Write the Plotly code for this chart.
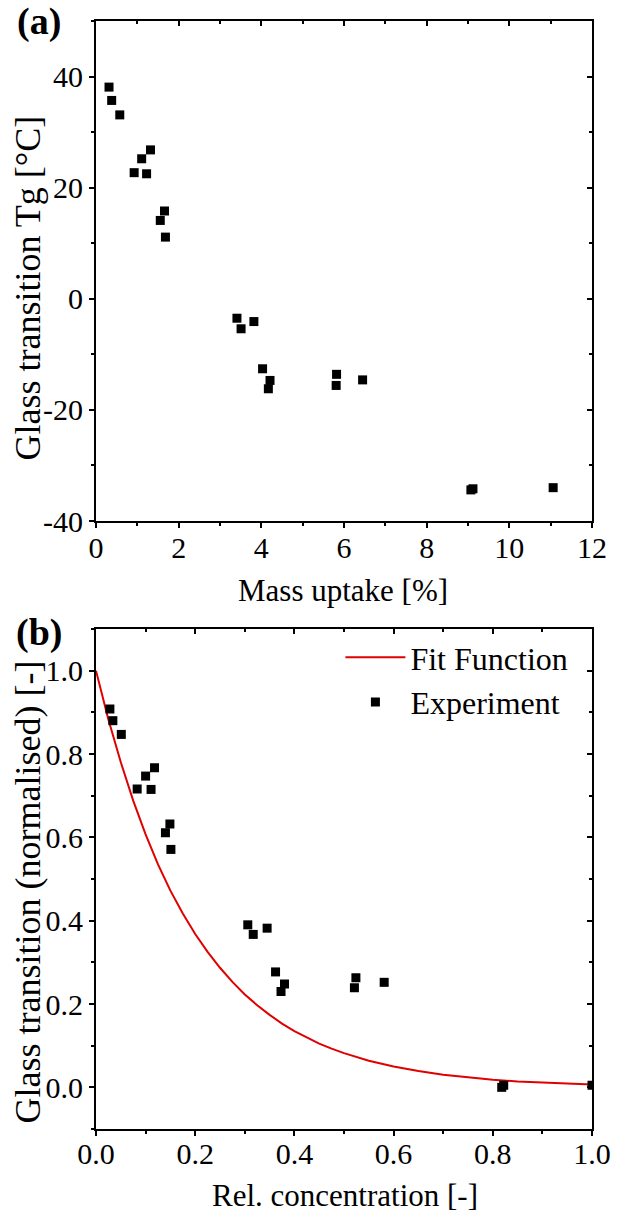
import plotly.graph_objects as go

# ---------- data ----------
mass_uptake = [0.315, 0.379, 0.575, 1.318, 1.105, 0.923, 1.224, 1.657, 1.555, 1.680,
               3.41, 3.51, 3.82, 4.03, 4.21, 4.17, 5.82, 5.81, 6.45, 9.07, 9.12, 11.06]
tg_celsius = [38.1, 35.7, 33.1, 26.8, 25.2, 22.7, 22.5, 15.8, 14.1, 11.1,
              -3.5, -5.4, -4.1, -12.6, -14.7, -16.2, -13.6, -15.6, -14.6, -34.4, -34.2, -34.0]

rel_conc = [0.028, 0.034, 0.051, 0.118, 0.100, 0.083, 0.111, 0.149, 0.140, 0.151,
            0.306, 0.317, 0.345, 0.362, 0.380, 0.373, 0.524, 0.521, 0.581, 0.818, 0.822, 1.0]
tg_norm = [0.908, 0.880, 0.847, 0.767, 0.747, 0.716, 0.715, 0.632, 0.611, 0.571,
           0.390, 0.367, 0.382, 0.277, 0.248, 0.230, 0.263, 0.239, 0.252, 0.000, 0.005, 0.005]

fit_x = [0.0, 0.025, 0.05, 0.075, 0.10, 0.125, 0.15, 0.175, 0.20, 0.225, 0.25,
         0.275, 0.30, 0.325, 0.35, 0.375, 0.40, 0.425, 0.45, 0.475, 0.50,
         0.55, 0.60, 0.65, 0.70, 0.75, 0.80, 0.85, 0.90, 0.95, 1.0]
fit_y = [1.0, 0.883, 0.780, 0.688, 0.607, 0.535, 0.472, 0.417, 0.368, 0.325, 0.287,
         0.253, 0.223, 0.197, 0.174, 0.153, 0.135, 0.119, 0.105, 0.093, 0.082,
         0.064, 0.050, 0.039, 0.030, 0.024, 0.018, 0.014, 0.011, 0.009, 0.007]

top_x_ticks = [0, 2, 4, 6, 8, 10, 12]
top_y_ticks = [-40, -20, 0, 20, 40]
top_y_labels = ["-40", "-20", "0", "20", "40"]
bot_ticks = [0.0, 0.2, 0.4, 0.6, 0.8, 1.0]
bot_labels = ["0.0", "0.2", "0.4", "0.6", "0.8", "1.0"]

# ---------- layout geometry ----------
W, H = 623, 1223
L, R, T, B = 96, 20, 21, 94
PW, PH = W - L - R, H - T - B


def px(xp):
    return (xp - L) / PW


def py(yp):
    return 1 - (yp - T) / PH


FONT = "Liberation Serif, Times New Roman, serif"
TICKF = dict(family=FONT, size=30, color="black")
RED = "#e00000"

fig = go.Figure()

fig.add_trace(go.Scatter(x=mass_uptake, y=tg_celsius, mode="markers",
                         marker=dict(symbol="square", size=9, color="black"),
                         xaxis="x", yaxis="y", showlegend=False))
fig.add_trace(go.Scatter(x=fit_x, y=fit_y, mode="lines", name="Fit Function",
                         line=dict(color=RED, width=2),
                         xaxis="x2", yaxis="y2"))
fig.add_trace(go.Scatter(x=rel_conc, y=tg_norm, mode="markers", name="Experiment",
                         marker=dict(symbol="square", size=9, color="black"),
                         xaxis="x2", yaxis="y2"))
# dummy traces for mirrored (inside-tick) axes
fig.add_trace(go.Scatter(x=[None], y=[None], xaxis="x3", yaxis="y3",
                         showlegend=False, hoverinfo="skip"))
fig.add_trace(go.Scatter(x=[None], y=[None], xaxis="x4", yaxis="y4",
                         showlegend=False, hoverinfo="skip"))

top_dom = [py(521), 1.0]
bot_dom = [0.0, py(629)]

base = dict(showline=True, linewidth=2, linecolor="black", showgrid=False,
            zeroline=False, ticks="outside", ticklen=5, tickwidth=2,
            tickcolor="black", tickfont=TICKF)
minor_out = dict(ticks="outside", ticklen=3, tickwidth=2, tickcolor="black")
minor_in = dict(ticks="inside", ticklen=3, tickwidth=2, tickcolor="black")
mirror = dict(showline=True, linewidth=2, linecolor="black", showgrid=False,
              zeroline=False, ticks="inside", ticklen=5, tickwidth=2,
              tickcolor="black", showticklabels=False)

fig.update_layout(
    width=W, height=H,
    margin=dict(l=L, r=R, t=T, b=B),
    plot_bgcolor="white", paper_bgcolor="white",
    font=dict(family=FONT, color="black"),
    xaxis=dict(base, domain=[0, 1], anchor="y", range=[0, 12],
               tickvals=top_x_ticks, minor=dict(minor_out, dtick=1),
               ticklabelstandoff=-6),
    yaxis=dict(base, domain=top_dom, anchor="x", range=[-40, 50],
               tickvals=top_y_ticks, ticktext=top_y_labels,
               minor=dict(minor_out, dtick=10)),
    xaxis3=dict(mirror, overlaying="x", side="top", anchor="y3", range=[0, 12],
                dtick=2, minor=dict(minor_in, dtick=1)),
    yaxis3=dict(mirror, overlaying="y", side="right", anchor="x3", range=[-40, 50],
                dtick=20, tick0=0, minor=dict(minor_in, dtick=10)),
    xaxis2=dict(base, domain=[0, 1], anchor="y2", range=[0, 1],
                tickvals=bot_ticks, ticktext=bot_labels, minor=dict(minor_out, dtick=0.1),
                ticklabelstandoff=-8),
    yaxis2=dict(base, domain=bot_dom, anchor="x2", range=[-0.1, 1.1],
                tickvals=bot_ticks, ticktext=bot_labels, minor=dict(minor_out, dtick=0.1)),
    xaxis4=dict(mirror, overlaying="x2", side="top", anchor="y4", range=[0, 1],
                dtick=0.2, minor=dict(minor_in, dtick=0.1)),
    yaxis4=dict(mirror, overlaying="y2", side="right", anchor="x4", range=[-0.1, 1.1],
                dtick=0.2, tick0=0, minor=dict(minor_in, dtick=0.1)),
    legend=dict(x=px(584), y=py(630), xanchor="right", yanchor="top",
                bgcolor="rgba(0,0,0,0)", font=dict(family=FONT, size=32, color="black"),
                itemwidth=60, tracegroupgap=0),
    showlegend=True,
)

TITLEF = dict(family=FONT, size=31, color="black")
YTITLEF = dict(family=FONT, size=36, color="black")
PANELF = dict(family=FONT, size=38, color="black")
ann = [
    dict(text="<b>(a)</b>", x=px(38), y=py(21), font=PANELF,
         xanchor="center", yanchor="middle"),
    dict(text="<b>(b)</b>", x=px(38), y=py(632), font=PANELF,
         xanchor="center", yanchor="middle"),
    dict(text="Mass uptake [%]", x=px(348), y=py(590), font=TITLEF,
         xanchor="center", yanchor="middle"),
    dict(text="Rel. concentration [-]", x=px(351), y=py(1195), font=TITLEF,
         xanchor="center", yanchor="middle"),
    dict(text="Glass transition Tg [°C]", x=px(26), y=py(288), font=YTITLEF,
         textangle=-90, xanchor="center", yanchor="middle"),
    dict(text="Glass transition (normalised) [-]", x=px(26), y=py(892), font=YTITLEF,
         textangle=-90, xanchor="center", yanchor="middle"),
]
for a in ann:
    a.update(xref="paper", yref="paper", showarrow=False)
fig.update_layout(annotations=ann)

fig.write_html("out.html")
